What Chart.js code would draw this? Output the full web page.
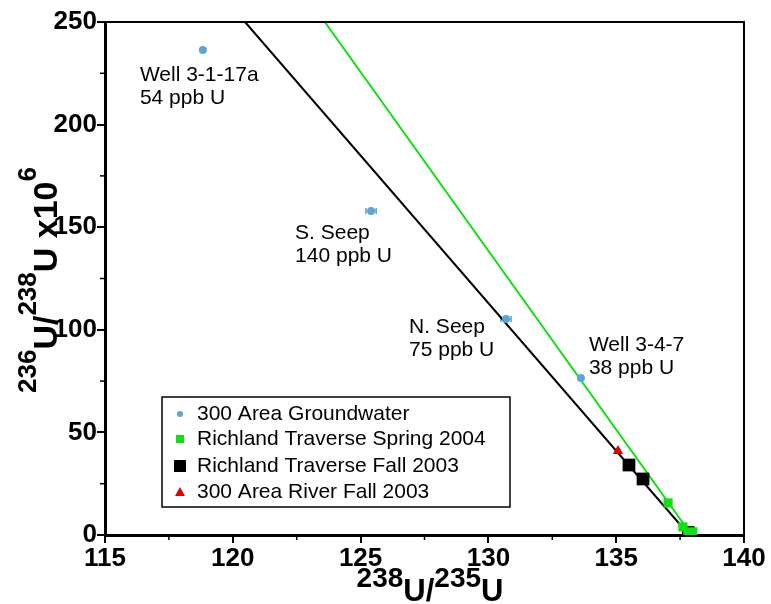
<!DOCTYPE html>
<html><head><meta charset="utf-8">
<script src="https://cdn.jsdelivr.net/npm/chart.js@4/dist/chart.umd.min.js"></script>
<style>html,body{margin:0;padding:0;background:#fff}#wrap{width:771px;height:604px}</style>
</head><body><div id="wrap"><canvas id="c" width="771" height="604"></canvas></div>
<script>
// ---- data ----
const gwX = [118.83, 125.41, 130.69, 133.62];
const gwY = [236.4, 157.9, 105.3, 76.5];
const gwXErr = [0, 0.2, 0.2, 0];
const gwNames = ['Well 3-1-17a', 'S. Seep', 'N. Seep', 'Well 3-4-7'];
const gwConc = ['54 ppb U', '140 ppb U', '75 ppb U', '38 ppb U'];
const springX = [137.03, 137.61, 137.9];
const springY = [15.6, 3.9, 0.3];
const fallX = [135.5, 136.05, 137.82];
const fallY = [34.1, 27.3, 1.2];
const riverX = [135.07, 137.75];
const riverY = [40.9, 0.2];
const blackLineX = [120.48, 137.85];
const blackLineY = [250, 0];
const greenLineX = [123.6, 137.95];
const greenLineY = [250, 0];
const seriesNames = ['300 Area Groundwater', 'Richland Traverse Spring 2004', 'Richland Traverse Fall 2003', '300 Area River Fall 2003'];
const xTicks = [115, 120, 125, 130, 135, 140];
const yTicks = [0, 50, 100, 150, 200, 250];

// ---- layout (pixel offsets of labels from their points) ----
const annOffsets = [[-63, 25], [-76, 22], [-97, 8], [8, -33]];
const FONT = '"Liberation Sans", Arial, Helvetica, sans-serif';
const BLUE = '#5aa6d4', GREEN = '#11e011', RED = '#e00000';

const pts = (xs, ys) => xs.map((x, i) => ({x: x, y: ys[i]}));

const datasets = [
  {label: seriesNames[0], data: pts(gwX, gwY), pointStyle: 'circle', pointRadius: 4,
   backgroundColor: BLUE, borderColor: BLUE, borderWidth: 0, showLine: false},
  {label: seriesNames[1], data: pts(springX, springY), pointStyle: 'rect', pointRadius: [6.5, 6.5, 10],
   backgroundColor: GREEN, borderColor: GREEN, borderWidth: 0, showLine: false},
  {label: seriesNames[2], data: pts(fallX, fallY), pointStyle: 'rect', pointRadius: 9,
   backgroundColor: '#000', borderColor: '#000', borderWidth: 0, showLine: false},
  {label: seriesNames[3], data: pts(riverX, riverY), pointStyle: 'triangle', pointRadius: 6,
   backgroundColor: RED, borderColor: RED, borderWidth: 0, showLine: false},
  {label: 'black line', data: pts(blackLineX, blackLineY), showLine: true, borderColor: '#000',
   borderWidth: 2, pointRadius: 0, fill: false},
  {label: 'green line', data: pts(greenLineX, greenLineY), showLine: true, borderColor: GREEN,
   borderWidth: 2, pointRadius: 0, fill: false}
];

const tickFont = {family: FONT, size: 26, weight: 'bold'};

const decor = {
  id: 'decor',
  beforeDatasetsDraw(chart) {
    const ctx = chart.ctx, a = chart.chartArea;
    ctx.save();
    ctx.beginPath(); ctx.rect(a.left, a.top, a.right - a.left, a.bottom - a.top); ctx.clip();
    const xs = chart.scales.x, ys = chart.scales.y;
    ctx.strokeStyle = BLUE; ctx.lineWidth = 1.5;
    gwX.forEach((x, i) => {
      if (!gwXErr[i]) return;
      const py = ys.getPixelForValue(gwY[i]);
      const p1 = xs.getPixelForValue(x - gwXErr[i]), p2 = xs.getPixelForValue(x + gwXErr[i]);
      ctx.beginPath(); ctx.moveTo(p1, py); ctx.lineTo(p2, py);
      ctx.moveTo(p1, py - 3); ctx.lineTo(p1, py + 3);
      ctx.moveTo(p2, py - 3); ctx.lineTo(p2, py + 3); ctx.stroke();
    });
    ctx.restore();
  },
  afterDraw(chart) {
    const ctx = chart.ctx, a = chart.chartArea;
    const xs = chart.scales.x, ys = chart.scales.y;
    ctx.save();
    ctx.strokeStyle = '#000'; ctx.lineWidth = 2;
    ctx.beginPath(); ctx.moveTo(a.left, a.top); ctx.lineTo(a.right, a.top); ctx.lineTo(a.right, a.bottom); ctx.stroke();
    ctx.lineWidth = 1.5;
    for (let v = 117.5; v < 140; v += 5) {
      const p = xs.getPixelForValue(v);
      ctx.beginPath(); ctx.moveTo(p, a.bottom); ctx.lineTo(p, a.bottom + 5); ctx.stroke();
    }
    for (let v = 25; v < 250; v += 50) {
      const p = ys.getPixelForValue(v);
      ctx.beginPath(); ctx.moveTo(a.left, p); ctx.lineTo(a.left - 5, p); ctx.stroke();
    }
    // annotations
    ctx.fillStyle = '#000';
    ctx.font = '21px ' + FONT;
    ctx.textAlign = 'left'; ctx.textBaseline = 'middle';
    gwX.forEach((x, i) => {
      const px = xs.getPixelForValue(x) + annOffsets[i][0];
      const py = ys.getPixelForValue(gwY[i]) + annOffsets[i][1];
      ctx.fillText(gwNames[i], px, py);
      ctx.fillText(gwConc[i], px, py + 23);
    });
    // legend
    const L = 162, T = 397, R = 510, B = 507;
    ctx.lineWidth = 1.5; ctx.strokeStyle = '#000';
    ctx.fillStyle = '#fff'; ctx.fillRect(L, T, R - L, B - T);
    ctx.strokeRect(L, T, R - L, B - T);
    const rowsY = [414, 439, 466, 492];
    const mx = 180;
    ctx.font = '21px ' + FONT; ctx.fillStyle = '#000';
    seriesNames.forEach((n, i) => {
      const y = rowsY[i];
      if (i === 0) { ctx.fillStyle = BLUE; ctx.beginPath(); ctx.arc(mx, y, 3, 0, Math.PI * 2); ctx.fill(); }
      if (i === 1) { ctx.fillStyle = GREEN; ctx.fillRect(mx - 4, y - 4, 8, 8); }
      if (i === 2) { ctx.fillStyle = '#000'; ctx.fillRect(mx - 6, y - 6, 12, 12); }
      if (i === 3) { ctx.fillStyle = RED; ctx.beginPath(); ctx.moveTo(mx, y - 5); ctx.lineTo(mx + 5, y + 4); ctx.lineTo(mx - 5, y + 4); ctx.closePath(); ctx.fill(); }
      ctx.fillStyle = '#000';
      ctx.fillText(n, 197, y);
    });
    // x title
    const xbig = 'bold 31px ' + FONT, xsup = 'bold 28px ' + FONT;
    const xparts = [['238', xsup, 1], ['U', xbig, 0], ['/', xbig, 0], ['235', xsup, 1], ['U', xbig, 0]];
    drawTitle(ctx, xparts, 430, 601, 14);
    // y title (rotated)
    const ybig = 'bold 34px ' + FONT, ysup = 'bold 26px ' + FONT;
    const yparts = [['236', ysup, 1], ['U', ybig, 0], ['/', ybig, 0], ['238', ysup, 1], ['U', ybig, 0], [' x10', ybig, 0], ['6', ysup, 1]];
    ctx.save();
    ctx.translate(57, 280); ctx.rotate(-Math.PI / 2);
    drawTitle(ctx, yparts, 0, 0, 21);
    ctx.restore();
    ctx.restore();
  }
};
function drawTitle(ctx, parts, cx, baseY, raise) {
  let w = 0;
  parts.forEach(p => { ctx.font = p[1]; w += ctx.measureText(p[0]).width; });
  let x = cx - w / 2;
  ctx.textAlign = 'left'; ctx.textBaseline = 'alphabetic'; ctx.fillStyle = '#000';
  parts.forEach(p => {
    ctx.font = p[1];
    ctx.fillText(p[0], x, p[2] ? baseY - raise : baseY);
    x += ctx.measureText(p[0]).width;
  });
}

new Chart(document.getElementById('c'), {
  type: 'scatter',
  data: {datasets: datasets},
  options: {
    responsive: false, animation: false, devicePixelRatio: 1,
    layout: {padding: {top: 22, right: 27, left: 0, bottom: 0}},
    plugins: {legend: {display: false}, tooltip: {enabled: false}},
    scales: {
      x: {type: 'linear', min: 115, max: 140,
        afterBuildTicks: s => { s.ticks = xTicks.map(v => ({value: v})); },
        ticks: {font: tickFont, color: '#000', padding: 0, maxRotation: 0, autoSkip: false},
        grid: {drawOnChartArea: false, tickLength: 8, color: '#000', lineWidth: 2},
        border: {color: '#000', width: 3},
        afterFit: s => { s.height = 69; }},
      y: {type: 'linear', min: 0, max: 250,
        afterBuildTicks: s => { s.ticks = yTicks.map(v => ({value: v})); },
        ticks: {font: tickFont, color: '#000', padding: 0, autoSkip: false},
        grid: {drawOnChartArea: false, tickLength: 8, color: '#000', lineWidth: 2},
        border: {color: '#000', width: 3},
        afterFit: s => { s.width = 105; }}
    }
  },
  plugins: [decor]
});
</script></body></html>
